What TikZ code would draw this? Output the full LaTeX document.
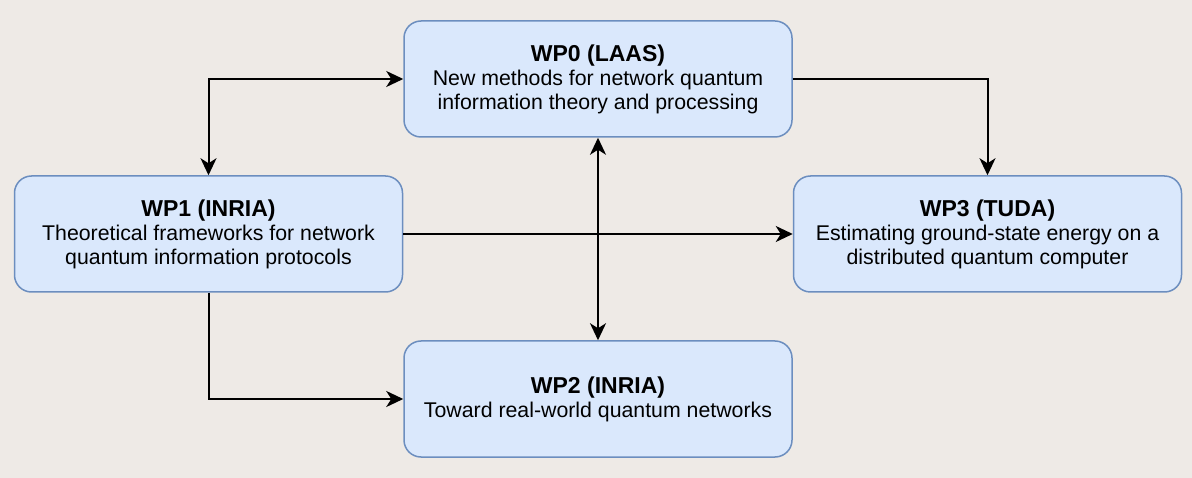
\documentclass[tikz,border=0pt]{standalone}
\usepackage{fontspec}
\setmainfont{Liberation Sans}
\usetikzlibrary{arrows.meta,positioning}
\definecolor{pagebg}{HTML}{EEEAE6}
\definecolor{wpfill}{HTML}{DAE8FC}
\definecolor{wpline}{HTML}{6C8EBF}
\newcommand{\wptitle}[1]{{\fontsize{23}{24}\selectfont\bfseries #1}}

\begin{document}
\begin{tikzpicture}[
    x=1pt, y=-1pt,
    wpbox/.style={draw=wpline, fill=wpfill, line width=1.5pt, rounded corners=17pt, minimum width=388pt, minimum height=116pt, inner sep=0pt, align=center, font=\fontsize{21.3}{24}\selectfont},
    link/.style={line width=2pt},
    >={Stealth[length=17pt, width=16pt, inset=5pt]},
    node distance=37.5pt and 0pt
  ]
    \fill[pagebg] (0,0) rectangle (1192,478);
    \node[wpbox] (wp0) at (598,79) {\wptitle{WP0 (LAAS)}\\New methods for network quantum\\information theory and processing};
    \node[wpbox, below left=of wp0] (wp1) {\wptitle{WP1 (INRIA)}\\Theoretical frameworks for network\\quantum information protocols};
    \node[wpbox, below right=of wp0] (wp3) {\wptitle{WP3 (TUDA)}\\Estimating ground-state energy on a\\distributed quantum computer};
    \node[wpbox, below right=47.5pt and 0pt of wp1] (wp2) {\wptitle{WP2 (INRIA)}\\Toward real-world quantum networks};
    \draw[link, <->] (wp1) |- (wp0);
    \draw[link, ->] (wp0) -| (wp3);
    \draw[link, ->] (wp1) -- (wp3);
    \draw[link, <->] (wp0) -- (wp2);
    \draw[link, ->] (wp1) |- (wp2);
  \end{tikzpicture}
\end{document}
